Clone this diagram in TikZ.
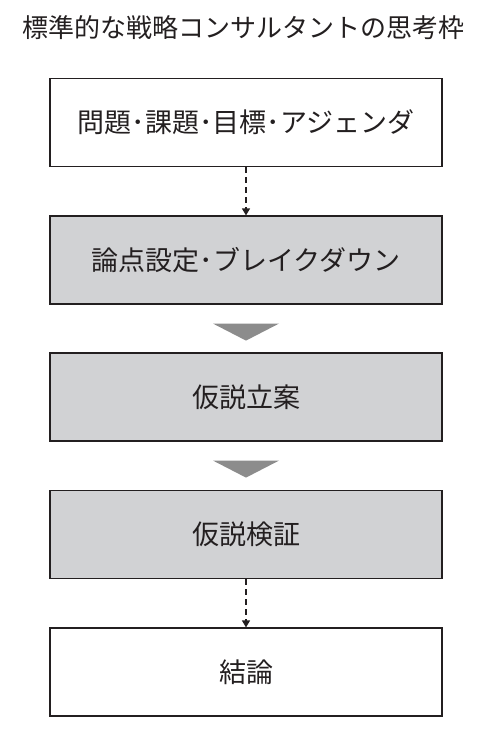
\documentclass[tikz,border=0pt]{standalone}
\usepackage{fontspec}
\setmainfont{Noto Sans CJK JP}
\usetikzlibrary{arrows.meta,calc}
\definecolor{boxgray}{HTML}{D1D2D4}
\definecolor{trigray}{HTML}{8C8C8C}
\definecolor{ink}{HTML}{231F20}
\tikzset{
  stage/.style={rectangle, draw=ink, line width=1.2pt, minimum width=392pt, minimum height=88pt, inner sep=0pt, font=\fontsize{27}{32}\selectfont, text=ink},
  dasharrow/.style={draw=ink, line width=1.4pt, dash pattern=on 6pt off 4pt, -{Triangle[width=8pt,length=7pt]}},
  tri/.style={fill=trigray}
}
\begin{document}
\begin{tikzpicture}[x=1pt,y=1pt]
      \useasboundingbox (0,0) rectangle (486,750);
      \node (title) at (244,722) [text=ink, font=\fontsize{26}{30}\selectfont] {標準的な戦略コンサルタントの思考枠};
      \node (1) at (246,627.5) [stage, fill=white] {問題･課題･目標･アジェンダ};
      \node (2) at (246,490) [stage, fill=boxgray] {論点設定･ブレイクダウン};
      \node (3) at (246,353) [stage, fill=boxgray] {仮説立案};
      \node (4) at (246,215.5) [stage, fill=boxgray] {仮説検証};
      \node (5) at (246,78) [stage, fill=white] {結論};
      \foreach \source/\dest in {1/2, 4/5}
        \path[dasharrow] (\source) -- (\dest.north);
      \foreach \upper in {2, 3}
        \fill[tri] ($(\upper.south)+(-33,-19)$) -- ($(\upper.south)+(33,-19)$) -- ($(\upper.south)+(0,-36)$) -- cycle;
\end{tikzpicture}
\end{document}
